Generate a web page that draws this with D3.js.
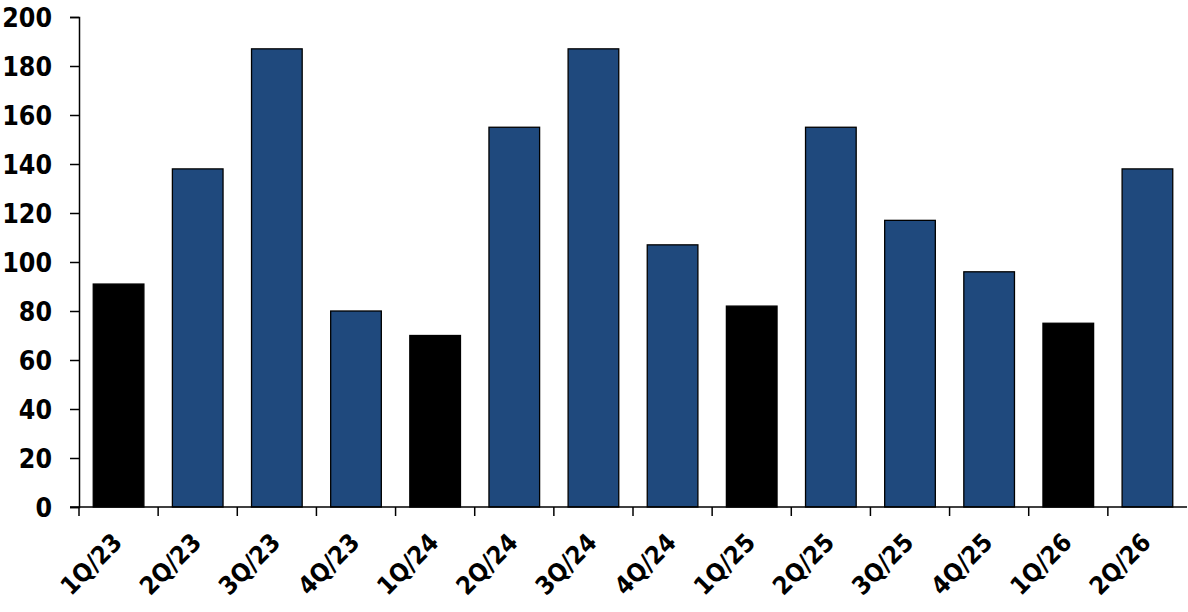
<!DOCTYPE html>
<html>
<head>
<meta charset="utf-8">
<script src="https://cdn.jsdelivr.net/npm/d3@7"></script>
<style>
  body { margin: 0; background: #fff; }
  text { font-family: "DejaVu Sans Condensed", "DejaVu Sans", sans-serif; font-stretch: condensed; font-weight: bold; fill: #000; }
</style>
</head>
<body>
<div id="chart"></div>
<script>
// quarters and values
const quarters = ["1Q/23", "2Q/23", "3Q/23", "4Q/23", "1Q/24", "2Q/24", "3Q/24",
                  "4Q/24", "1Q/25", "2Q/25", "3Q/25", "4Q/25", "1Q/26", "2Q/26"];
const values = [91, 138, 187, 80, 70, 155, 187, 107, 82, 155, 117, 96, 75, 138];
const yTicks = [0, 20, 40, 60, 80, 100, 120, 140, 160, 180, 200];

const width = 1188, height = 612;
const margin = {top: 17, right: 1, bottom: 105, left: 79};

const blue = "#1f497d", black = "#000000";

var svg = d3.select("#chart")
    .append("svg")
    .attr("width", width)
    .attr("height", height);

var g = svg.append("g")
    .attr("transform", "translate(" + margin.left + "," + margin.top + ")");

var plotW = width - margin.left - margin.right;
var plotH = height - margin.top - margin.bottom;

var x = d3.scaleBand()
    .domain(quarters)
    .range([0, plotW])
    .paddingInner(0.36)
    .paddingOuter(0.18);

var y = d3.scaleLinear()
    .domain([0, 200])
    .range([plotH, 0]);

// bars
g.selectAll(".bar")
    .data(quarters)
    .enter()
    .append("rect")
    .attr("class", "bar")
    .attr("x", function (d) { return x(d); })
    .attr("y", function (d, i) { return y(values[i]); })
    .attr("width", x.bandwidth())
    .attr("height", function (d, i) { return plotH - y(values[i]); })
    .style("fill", function (d) { return d.startsWith("1Q") ? black : blue; })
    .style("stroke", "#000")
    .style("stroke-width", 1.3);

// y axis
var yAxis = g.append("g")
    .call(d3.axisLeft(y).tickValues(yTicks).tickSize(9).tickPadding(18));
yAxis.select(".domain").attr("stroke", "#000").attr("stroke-width", 1.5);
yAxis.selectAll(".tick line").attr("stroke-width", 1.5);
yAxis.selectAll("text").style("font-size", "26.5px").attr("dy", "0.36em");

// x axis: ticks at category boundaries
var step = x.step();
var boundaries = d3.range(quarters.length).map(function (i) { return i * step; });

var xAxis = g.append("g").attr("transform", "translate(0," + plotH + ")");
xAxis.append("line")
    .attr("x1", -9).attr("x2", plotW)
    .attr("stroke", "#000").attr("stroke-width", 1.5);
xAxis.selectAll(".xtick")
    .data(boundaries)
    .enter()
    .append("line")
    .attr("class", "xtick")
    .attr("x1", function (d) { return d; })
    .attr("x2", function (d) { return d; })
    .attr("y1", 0).attr("y2", 9)
    .attr("stroke", "#000").attr("stroke-width", 1.5);

xAxis.selectAll(".xlabel")
    .data(quarters)
    .enter()
    .append("text")
    .attr("class", "xlabel")
    .attr("transform", function (d) {
        return "translate(" + (x(d) + x.bandwidth() / 2 + 5) + ",37) rotate(-45)";
    })
    .style("text-anchor", "end")
    .style("font-size", "25px")
    .text(function (d) { return d; });
</script>
</body>
</html>
